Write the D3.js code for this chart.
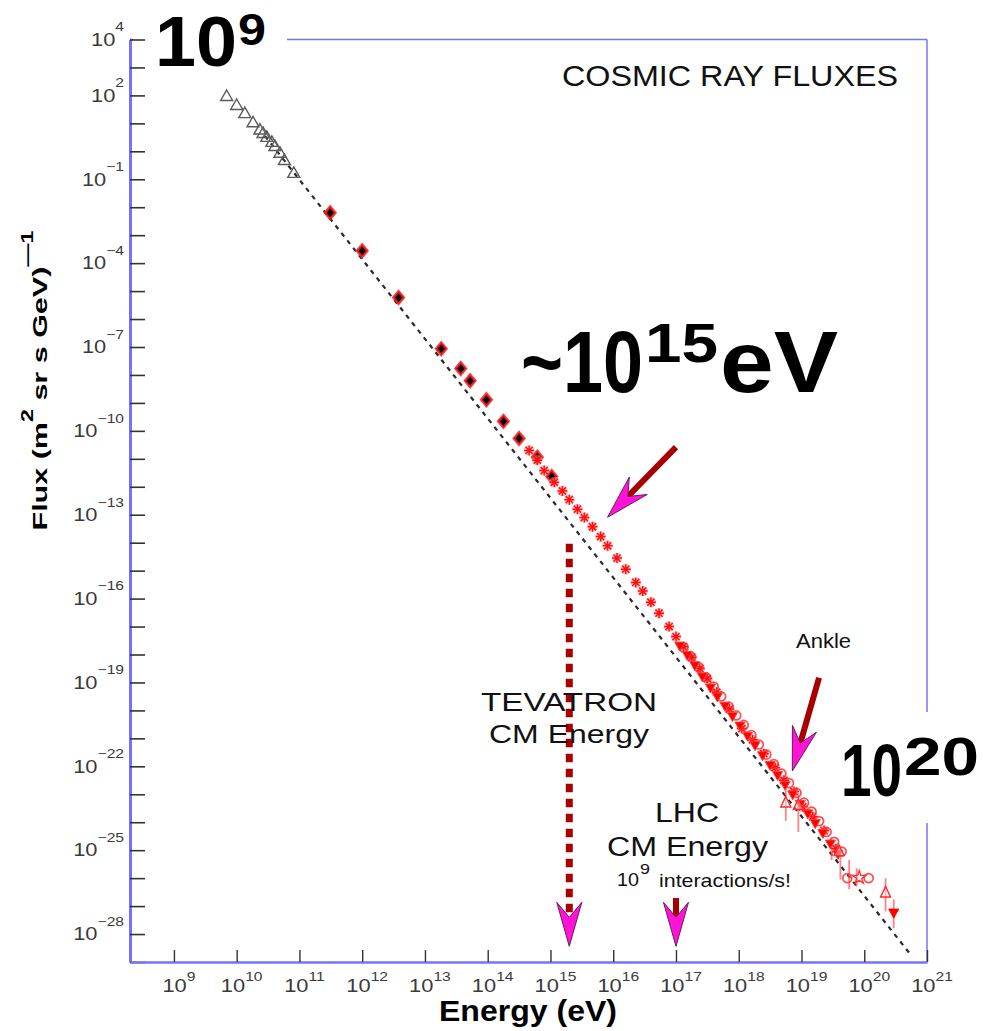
<!DOCTYPE html>
<html>
<head>
<meta charset="utf-8">
<script src="https://cdn.jsdelivr.net/npm/d3@7"></script>
<style>
  body { margin: 0; background: #fff; }
  svg { display: block; }
  text { font-family: "Liberation Sans", Arial, Helvetica, sans-serif; }
</style>
</head>
<body>
<svg id="chart" width="983" height="1031"></svg>
<script>
// ---- data: [log10(E / eV), log10(flux)] ----
const lowEnergyTriangles = [[9.84,1.96],[10.00,1.64],[10.13,1.35],[10.26,1.02],[10.37,0.76],[10.42,0.64],
  [10.48,0.50],[10.56,0.32],[10.61,0.17],[10.69,-0.07],[10.76,-0.33],[10.91,-0.79]];
const directDiamonds = [[11.49,-2.20],[12.00,-3.56],[12.58,-5.23],[13.26,-7.06],[13.57,-7.77],[13.72,-8.21],
  [13.98,-8.89],[14.25,-9.66],[14.50,-10.27],[14.79,-10.94],[15.02,-11.63]];
const kneeStars = [[14.66,-10.70],[14.79,-11.05],[14.90,-11.42],[15.06,-11.84],[15.19,-12.15],[15.30,-12.46],
  [15.43,-12.80],[15.54,-13.10],[15.67,-13.43],[15.80,-13.78],[15.91,-14.11],[16.06,-14.55],[16.20,-14.95],
  [16.36,-15.42],[16.47,-15.73],[16.60,-16.13],[16.73,-16.52],[16.89,-17.00],[17.00,-17.36],[17.12,-17.72],
  [17.25,-18.10],[17.38,-18.50],[17.50,-18.86]];
const ankleFilled = [[17.06,-17.70],[17.18,-18.03],[17.30,-18.40],[17.42,-18.80],[17.55,-19.20],[17.66,-19.52],
  [17.78,-19.85],[17.90,-20.22],[18.02,-20.56],[18.14,-20.92],[18.26,-21.26],[18.38,-21.62],[18.50,-21.97],
  [18.62,-22.33],[18.74,-22.68],[18.86,-23.02],[18.98,-23.36],[19.10,-23.70],[19.22,-24.05],[19.34,-24.40],
  [19.46,-24.78],[19.58,-25.15]];
const ankleOpen = [[17.12,-17.75],[17.24,-18.08],[17.36,-18.45],[17.48,-18.82],[17.60,-19.15],[17.72,-19.50],
  [17.84,-19.86],[17.96,-20.18],[18.08,-20.52],[18.20,-20.88],[18.32,-21.22],[18.44,-21.58],[18.56,-21.92],
  [18.68,-22.26],[18.80,-22.60],[18.92,-22.95],[19.04,-23.30],[19.16,-23.62],[19.28,-23.96],[19.40,-24.35],
  [19.52,-24.70],[19.64,-25.05],[19.73,-26.00],[20.07,-26.00]];
const ankleStars = [[17.65,-19.35],[17.85,-19.95],[18.05,-20.65],[18.22,-21.05],[18.40,-21.55],[18.58,-22.05],
  [18.72,-22.50],[18.88,-22.90],[19.02,-23.45],[19.18,-23.80],[19.36,-24.30],[19.55,-24.95]];
const ankleOpenTriangles = [[18.75,-23.31],[18.95,-23.40],[19.60,-25.05],[20.34,-26.53]];
const highEnergyStars = [[19.92,-25.98]];
const upperLimits = [[20.47,-27.25]];
// [log10 E, upper end, lower end]
const errorBars = [[18.75,-22.75,-23.95],[18.95,-22.95,-24.35],[19.48,-24.55,-25.35],[19.62,-25.00,-26.05],
  [19.76,-25.35,-26.40],[19.88,-25.65,-26.30],[20.34,-26.00,-27.19],[20.47,-26.76,-27.79]];
// E^-2.85 guide line, end points
const referenceLine = [[10.45,0.55],[20.74,-28.74]];

// tick labels (powers of ten)
const xLabelExps = [9,10,11,12,13,14,15,16,17,18,19,20,21];
const yLabelExps = [4,2,-1,-4,-7,-10,-13,-16,-19,-22,-25,-28];

// accelerator markers and annotation arrows [log10 E, log10 flux]
const tevatronE = 15.30, lhcE = 17.00;
const kneeArrow = {tail:[17.00,-10.58], tip:[15.91,-13.09]};
const ankleArrow = {tail:[19.28,-18.83], tip:[18.854,-22.17]};
const tevatronArrow = {tail:[tevatronE,-14.04], tip:[tevatronE,-28.44]};
const lhcArrow = {tail:[lhcE,-26.71], tip:[lhcE,-28.44]};

// ---- chart ----
const svg = d3.select('#chart');
const P = v => Math.pow(10, v);
const x = d3.scaleLog().domain([P(8.3), 1e21]).range([130, 927]);
const y = d3.scaleLog().domain([1e-29, 1e4]).range([962, 39.5]);
const px = d => x(P(d[0])), py = d => y(P(d[1]));

const blue = '#7474fa';
// frame (top and right edges)
svg.append('line').attr('x1', 130).attr('x2', x(1e21)).attr('y1', y(1e4)).attr('y2', y(1e4))
  .attr('stroke', blue).attr('stroke-width', 1.5);
svg.append('line').attr('x1', x(1e21)).attr('x2', x(1e21)).attr('y1', y(1e4)).attr('y2', y(1e-29))
  .attr('stroke', blue).attr('stroke-width', 1.5);

// white boxes behind the large annotations
svg.append('rect').attr('x', 133).attr('y', 0).attr('width', 154).attr('height', 74).attr('fill', '#fff');
svg.append('rect').attr('x', 835).attr('y', 712).attr('width', 148).attr('height', 111).attr('fill', '#fff');

// y axis (ticks point inward)
const yMajor = d3.range(-29, 5).map(P);
const yMinor = d3.range(-28, 5).map(e => 5 * P(e - 1));
const gy = svg.append('g').attr('transform', 'translate(130,0)');
gy.call(d3.axisRight(y).tickValues(yMinor).tickSize(8).tickSizeOuter(0).tickFormat(''));
gy.call(d3.axisRight(y).tickValues(yMajor).tickSize(15).tickSizeOuter(0).tickFormat(''));
gy.selectAll('.domain').attr('stroke', blue).attr('stroke-width', 3);
gy.selectAll('.tick line').attr('stroke', '#333').attr('stroke-width', 1.6);

// x axis
const xMajor = xLabelExps.map(P);
const xMinor = [];
for (let e = 8; e <= 20; e++) for (let m = 2; m <= 9; m++) { const v = m * P(e); if (v >= P(8.3)) xMinor.push(v); }
const gx = svg.append('g').attr('transform', 'translate(0,962)');
gx.call(d3.axisTop(x).tickValues(xMinor).tickSize(6).tickSizeOuter(0).tickFormat(''));
gx.call(d3.axisTop(x).tickValues(xMajor).tickSize(12).tickSizeOuter(0).tickFormat(''));
gx.selectAll('.domain').attr('stroke', blue).attr('stroke-width', 2.5);
gx.selectAll('.tick line').attr('stroke', '#333').attr('stroke-width', 1.4);

const fmtExp = e => (e < 0 ? '\u2212' + (-e) : String(e));
// y tick labels
yLabelExps.forEach(e => {
  const t = svg.append('text').attr('transform', `translate(124,${y(P(e)) + 6.3}) scale(1.25,1)`)
    .attr('text-anchor', 'end').attr('fill', '#3a3a3a').attr('font-size', 17.5);
  t.append('tspan').text('10');
  t.append('tspan').attr('dy', -14.5).attr('font-size', 12.5).text(fmtExp(e));
});
// x tick labels
xLabelExps.forEach(e => {
  const t = svg.append('text').attr('transform', `translate(${x(P(e)) + 5},992) scale(1.25,1)`)
    .attr('text-anchor', 'middle').attr('fill', '#3a3a3a').attr('font-size', 17.5);
  t.append('tspan').text('10');
  t.append('tspan').attr('dy', -11).attr('font-size', 12.5).text(fmtExp(e));
});

// axis titles
const yt = svg.append('text').attr('transform', 'translate(47,380.5) rotate(-90)')
  .attr('text-anchor', 'middle').attr('font-weight', 'bold').attr('font-size', 21)
  .attr('textLength', 300).attr('lengthAdjust', 'spacingAndGlyphs');
yt.append('tspan').text('Flux (m');
yt.append('tspan').attr('dy', -14).attr('font-size', 16).text('2');
yt.append('tspan').attr('dy', 14).text(' sr s GeV)');
yt.append('tspan').attr('dy', -14).attr('font-size', 16).text('\u20141');
svg.append('text').attr('x', 439).attr('y', 1021).attr('font-weight', 'bold').attr('font-size', 30)
  .attr('textLength', 178).attr('lengthAdjust', 'spacingAndGlyphs').text('Energy (eV)');

svg.append('text').attr('x', 562).attr('y', 86).attr('font-size', 29).attr('fill', '#111')
  .attr('textLength', 336).attr('lengthAdjust', 'spacingAndGlyphs').text('COSMIC RAY FLUXES');

// guide line
svg.append('line').attr('x1', px(referenceLine[0])).attr('y1', py(referenceLine[0]))
  .attr('x2', px(referenceLine[1])).attr('y2', py(referenceLine[1]))
  .attr('stroke', '#2a2a2a').attr('stroke-width', 2.2).attr('stroke-dasharray', '4.5,5');

// ---- data marks ----
const marks = svg.append('g');
const put = (data, path, attrs) => {
  const s = marks.append('g').selectAll('path').data(data).join('path')
    .attr('transform', d => `translate(${px(d)},${py(d)})`).attr('d', path);
  Object.entries(attrs).forEach(([k, v]) => s.attr(k, v));
  return s;
};
const tri = 'M0,-6.5L6,4L-6,4Z';
const triBig = 'M0,-6.5L5,4L-5,4Z';
const downTri = 'M0,5L5,-4L-5,-4Z';
const diamond = 'M0,-6.2L5.2,0L0,6.2L-5.2,0Z';
const aster = 'M-5,0H5M0,-5V5M-3.6,-3.6L3.6,3.6M-3.6,3.6L3.6,-3.6';
const circle = 'M4.5,0A4.5,4.5 0 1,1 -4.5,0A4.5,4.5 0 1,1 4.5,0Z';
const star = d3.symbol(d3.symbolStar).size(55)();

// error bars
marks.append('g').selectAll('line').data(errorBars).join('line')
  .attr('x1', d => x(P(d[0]))).attr('x2', d => x(P(d[0])))
  .attr('y1', d => y(P(d[1]))).attr('y2', d => y(P(d[2])))
  .attr('stroke', '#ff5a5a').attr('stroke-opacity', 0.75).attr('stroke-width', 1.8);

put(lowEnergyTriangles, tri, {fill: 'none', stroke: '#5a5a5a', 'stroke-width': 1.4});
put(directDiamonds, diamond, {fill: '#000', stroke: '#ff1a1a', 'stroke-width': 2.6, 'stroke-opacity': 0.85});
put(kneeStars, aster, {fill: 'none', stroke: '#ff9a9a', 'stroke-width': 3.8, 'stroke-opacity': 0.6});
put(kneeStars, aster, {fill: 'none', stroke: '#ff1010', 'stroke-width': 1.5});
put(ankleStars, aster, {fill: 'none', stroke: '#ff9a9a', 'stroke-width': 3.8, 'stroke-opacity': 0.6});
put(ankleStars, aster, {fill: 'none', stroke: '#ff1010', 'stroke-width': 1.5});
put(ankleOpen, circle, {fill: 'none', stroke: '#ff3030', 'stroke-width': 1.7, 'stroke-opacity': 0.85});
put(ankleFilled, downTri, {fill: '#ff0000', stroke: '#ff4040', 'stroke-width': 1});
put(ankleOpenTriangles, triBig, {fill: '#fff', 'fill-opacity': 0.4, stroke: '#ff2a2a', 'stroke-width': 1.4});
put(highEnergyStars, star, {fill: 'none', stroke: '#ff3030', 'stroke-width': 1.4});
put(upperLimits, downTri, {fill: '#ff0000', stroke: '#ff0000', 'stroke-width': 1});

// ---- annotation arrows ----
const shaftColor = '#a80000', headColor = '#ff14d6';
function arrow(a, dashed) {
  const t = [px(a.tail), py(a.tail)], h = [px(a.tip), py(a.tip)];
  const len = Math.hypot(t[0] - h[0], t[1] - h[1]);
  const ux = (t[0] - h[0]) / len, uy = (t[1] - h[1]) / len, vx = -uy, vy = ux;
  const pt = (u, v) => [h[0] + ux * u + vx * v, h[1] + uy * u + vy * v];
  const notch = pt(29, 0);
  svg.append('line').attr('x1', t[0]).attr('y1', t[1]).attr('x2', notch[0]).attr('y2', notch[1])
    .attr('stroke', shaftColor).attr('stroke-width', dashed ? 7 : 6)
    .attr('stroke-dasharray', dashed ? '8.5,6.5' : null);
  svg.append('path').attr('d', d3.line()([h, pt(44, 12.5), notch, pt(44, -12.5)]) + 'Z')
    .attr('fill', headColor).attr('stroke', '#6a1a5e').attr('stroke-width', 1);
}
arrow(kneeArrow, false);
arrow(ankleArrow, false);
arrow(tevatronArrow, true);
arrow(lhcArrow, false);

// ---- text annotations ----
// each part: [string, x, baseline, font size, advance width]
const label = (parts, opts = {}) => {
  const t = svg.append('text').attr('fill', opts.fill || '#000');
  if (opts.bold) t.attr('font-weight', 'bold');
  parts.forEach(([s, xPos, yPos, size, width]) => {
    t.append('tspan').attr('x', xPos).attr('y', yPos).attr('font-size', size)
      .attr('textLength', width).attr('lengthAdjust', 'spacingAndGlyphs').text(s);
  });
  return t;
};
label([['10', 155, 66, 70, 82], ['9', 238, 45, 45, 28]], {bold: true});
label([['~10', 521, 392, 88, 122], ['15', 645, 362, 56, 73], ['eV', 720, 392, 88, 118]], {bold: true});
label([['10', 841, 796, 74, 61], ['20', 904, 775, 53, 75]], {bold: true});

label([['TEVATRON', 481, 711, 26, 176]], {fill: '#111'});
label([['CM Energy', 489, 743, 26, 160]], {fill: '#111'});
label([['LHC', 655, 822, 28, 64]], {fill: '#111'});
label([['CM Energy', 607, 856, 27, 161]], {fill: '#111'});
label([['10', 617, 886, 18, 22], ['9', 640, 874, 14, 10], ['interactions/s!', 659, 887, 19, 132]], {fill: '#111'});
label([['Ankle', 796, 648, 20, 55]], {fill: '#111'});
</script>
</body>
</html>
